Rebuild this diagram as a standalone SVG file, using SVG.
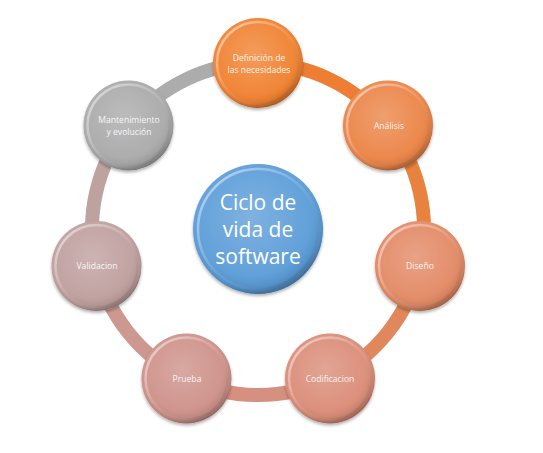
<svg xmlns="http://www.w3.org/2000/svg" width="543" height="453" viewBox="0 0 543 453">
<defs>
<radialGradient id="shade" cx="0.45" cy="0.4" r="0.6">
<stop offset="0" stop-color="#fff" stop-opacity="0.22"/>
<stop offset="0.75" stop-color="#fff" stop-opacity="0.05"/>
<stop offset="0.92" stop-color="#000" stop-opacity="0.08"/>
<stop offset="1" stop-color="#000" stop-opacity="0.28"/>
</radialGradient>
<linearGradient id="rim" x1="0" y1="0" x2="1" y2="1">
<stop offset="0" stop-color="#fff" stop-opacity="0.6"/>
<stop offset="0.5" stop-color="#fff" stop-opacity="0.1"/>
<stop offset="1" stop-color="#000" stop-opacity="0.15"/>
</linearGradient>
<filter id="sh" x="-20%" y="-20%" width="140%" height="150%">
<feDropShadow dx="0" dy="2" stdDeviation="1.8" flood-color="#000" flood-opacity="0.3"/>
</filter>
</defs>
<style>
.ring{fill:none;stroke-width:14;stroke-linecap:butt}
.ov{fill:url(#shade)}
.rm{fill:none;stroke:url(#rim);stroke-width:2.5}
.lbl{font-family:"Open Sans","DejaVu Sans",sans-serif;font-size:8.6px;fill:#fff;fill-opacity:0.92;text-anchor:middle}
.big{font-family:"Open Sans","DejaVu Sans",sans-serif;font-size:21px;fill:#fff;text-anchor:middle}
</style>
<rect width="543" height="453" fill="#fff"/>
<g id="connectors">
<path class="ring" stroke="#ACACAC" d="M128.2,125.5 A166,166 0 0 1 258,63"/>
<path class="ring" stroke="#EE7E33" d="M258,63 A166,166 0 0 1 387.8,125.5"/>
<path class="ring" stroke="#E8833F" d="M387.8,125.5 A166,166 0 0 1 419.8,265.9"/>
<path class="ring" stroke="#E0885C" d="M419.8,265.9 A166,166 0 0 1 330,378.6"/>
<path class="ring" stroke="#D69080" d="M330,378.6 A166,166 0 0 1 186,378.6"/>
<path class="ring" stroke="#CC9890" d="M186,378.6 A166,166 0 0 1 96.2,265.9"/>
<path class="ring" stroke="#BEA2A0" d="M96.2,265.9 A166,166 0 0 1 128.2,125.5"/>
</g>
<g id="center">
<circle cx="258" cy="229" r="65" fill="#5A9CD8" filter="url(#sh)"/>
<circle cx="258" cy="229" r="65" class="ov"/>
<circle cx="258" cy="229" r="60" class="rm"/>
<text class="big" x="258" y="210">Ciclo de</text>
<text class="big" x="258" y="237">vida de</text>
<text class="big" x="258" y="264">software</text>
</g>
<g id="n-definicion">
<circle cx="258" cy="63" r="45" fill="#F0802E" filter="url(#sh)"/>
<circle cx="258" cy="63" r="45" class="ov"/>
<circle cx="258" cy="63" r="41" class="rm"/>
<text class="lbl" x="259" y="61">Definición de</text>
<text class="lbl" x="259" y="73">las necesidades</text>
</g>
<g id="n-analisis">
<circle cx="388" cy="125.5" r="45" fill="#EB8345" filter="url(#sh)"/>
<circle cx="388" cy="125.5" r="45" class="ov"/>
<circle cx="388" cy="125.5" r="41" class="rm"/>
<text class="lbl" x="389" y="129">Análisis</text>
</g>
<g id="n-diseno">
<circle cx="420" cy="266" r="45" fill="#E28863" filter="url(#sh)"/>
<circle cx="420" cy="266" r="45" class="ov"/>
<circle cx="420" cy="266" r="41" class="rm"/>
<text class="lbl" x="420" y="269">Diseño</text>
</g>
<g id="n-codificacion">
<circle cx="330" cy="378.5" r="45" fill="#DA8B76" filter="url(#sh)"/>
<circle cx="330" cy="378.5" r="45" class="ov"/>
<circle cx="330" cy="378.5" r="41" class="rm"/>
<text class="lbl" x="330" y="381.5">Codificacion</text>
</g>
<g id="n-prueba">
<circle cx="186.5" cy="378.5" r="45" fill="#CD9088" filter="url(#sh)"/>
<circle cx="186.5" cy="378.5" r="45" class="ov"/>
<circle cx="186.5" cy="378.5" r="41" class="rm"/>
<text class="lbl" x="187" y="381.5">Prueba</text>
</g>
<g id="n-validacion">
<circle cx="96.5" cy="266" r="45" fill="#BE9E9D" filter="url(#sh)"/>
<circle cx="96.5" cy="266" r="45" class="ov"/>
<circle cx="96.5" cy="266" r="41" class="rm"/>
<text class="lbl" x="97" y="269">Validacion</text>
</g>
<g id="n-mantenimiento">
<circle cx="128.5" cy="125.5" r="45" fill="#A9A9A9" filter="url(#sh)"/>
<circle cx="128.5" cy="125.5" r="45" class="ov"/>
<circle cx="128.5" cy="125.5" r="41" class="rm"/>
<text class="lbl" x="129" y="123">Mantenimiento</text>
<text class="lbl" x="129" y="135">y evolución</text>
</g>
</svg>
